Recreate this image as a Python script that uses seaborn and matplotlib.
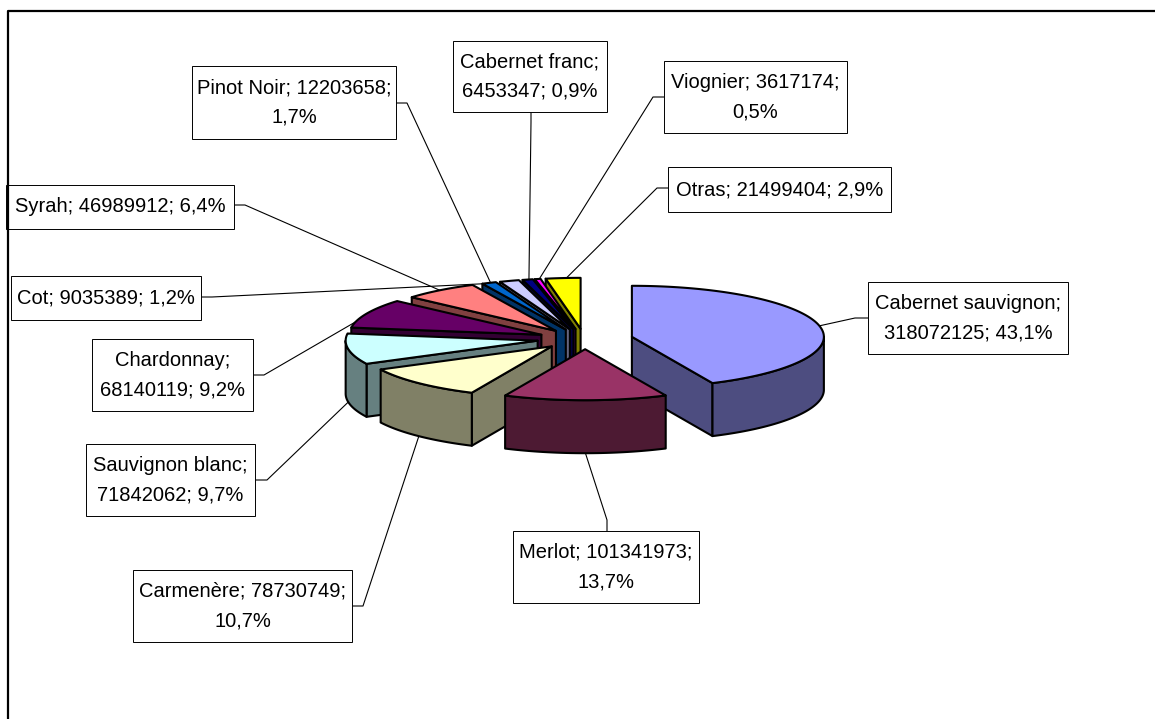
#!/usr/bin/env python3
'''exploded 3d style pie of wine varieties, drawn on a pixel sized axes'''

import numpy as np
import matplotlib
matplotlib.use('Agg')
import matplotlib.pyplot as plt
from matplotlib.patches import Polygon, Rectangle
import seaborn as sns

# data
varieties = ['Cabernet sauvignon', 'Merlot', 'Carmenère', 'Sauvignon blanc', 'Chardonnay',
             'Syrah', 'Cot', 'Pinot Noir', 'Cabernet franc', 'Viognier', 'Otras']
hectolitres = [318072125, 101341973, 78730749, 71842062, 68140119,
               46989912, 9035389, 12203658, 6453347, 3617174, 21499404]
shares = ['43,1%', '13,7%', '10,7%', '9,7%', '9,2%',
          '6,4%', '1,2%', '1,7%', '0,9%', '0,5%', '2,9%']
top_colors = ['#9999FF', '#993366', '#FFFFCC', '#CCFFFF', '#660066',
              '#FF8080', '#0066CC', '#CCCCFF', '#000080', '#FF00FF', '#FFFF00']

# label boxes: left, top, right, bottom in pixels, where the line breaks
boxes = [(868, 282, 1068, 354), (513, 531, 699, 603), (133, 570, 352, 642), (86, 444, 255, 516),
         (92, 339, 253, 411), (6, 185, 234, 229), (11, 276, 201, 320), (192, 66, 396, 139),
         (453, 41, 607, 112), (664, 61, 847, 133), (668, 167, 891, 212)]
breaks = [2, 1, 1, 2, 2, 0, 0, 1, 2, 1, 0]   # 0 one line, 1 before share, 2 before value
# leader lines: where they leave the box, the elbow, then a nudge of the rim end in degrees
leader_start = [(868, 318), (607, 531), (352, 606), (255, 480), (253, 375), (234, 205),
                (201, 297), (396, 103), (531, 112), (664, 97), (668, 188)]
leader_elbow = [(855, 318), (607, 520), (363, 606), (267, 480), (264, 375), (245, 205),
                (212, 297), (407, 103), (531, 122), (653, 97), (657, 188)]
leader_nudge = [0, 0, 0, 0, -10, 0, -2.5, -6, 0.4, 0.5, 1]

# pie geometry
cx, cy = 585, 339
rx, ry = 192, 51
depth = 53
explode_x, explode_y = 0.25, 0.2

sns.set_theme(style='white')
plt.rcParams['font.family'] = ['Liberation Sans', 'DejaVu Sans']

fig = plt.figure(figsize=(11.55, 7.19), dpi=100)
ax = fig.add_axes([0, 0, 1, 1])
ax.set_xlim(0, 1155)
ax.set_ylim(719, 0)
ax.axis('off')

# chart frame, runs off the right and bottom of the picture
ax.plot([8, 8, 1160], [725, 11, 11], color='black', lw=1.6, zorder=12)

palette = sns.color_palette(top_colors)
fractions = np.array(hectolitres) / np.sum(hectolitres)
edges = np.concatenate([[0], np.cumsum(fractions) * 360])


def rim(theta, x0, y0):
    t = np.radians(theta)
    return x0 + rx * np.sin(t), y0 - ry * np.cos(t)


order = np.argsort(-np.cos(np.radians((edges[:-1] + edges[1:]) / 2)))
for n, i in enumerate(order):
    t1, t2 = edges[i], edges[i + 1]
    mid = np.radians((t1 + t2) / 2)
    x0 = cx + explode_x * rx * np.sin(mid)
    y0 = cy - explode_y * ry * np.cos(mid)
    top = palette[i]
    side = tuple(c / 2 for c in top)
    z = 5 + n * 0.1
    style = dict(edgecolor='black', lw=1.5, joinstyle='round', zorder=z)

    # radial walls facing the viewer
    for theta, visible in ((t1, np.sin(np.radians(t1)) < -1e-6), (t2, np.sin(np.radians(t2)) > 1e-6)):
        if visible:
            x1, y1 = rim(theta, x0, y0)
            ax.add_patch(Polygon([(x0, y0), (x1, y1), (x1, y1 + depth), (x0, y0 + depth)],
                                 facecolor=side, **style))
    # outer wall, front half only
    a, b = max(t1, 90), min(t2, 270)
    if a < b:
        th = np.linspace(a, b, 60)
        xs, ys = rim(th, x0, y0)
        pts = np.r_[np.c_[xs, ys], np.c_[xs, ys + depth][::-1]]
        ax.add_patch(Polygon(pts, facecolor=side, **style))
    # top face
    th = np.linspace(t1, t2, max(int(t2 - t1), 2) + 1)
    xs, ys = rim(th, x0, y0)
    ax.add_patch(Polygon(np.r_[[(x0, y0)], np.c_[xs, ys]], facecolor=top, **style))

    # leader line goes under the wedges, ends on the rim
    xe, ye = rim(np.degrees(mid) + leader_nudge[i], x0, y0)
    if np.cos(mid) < 0:
        ye += depth
    sx, sy = leader_start[i]
    ex, ey = leader_elbow[i]
    ax.plot([sx, ex, xe], [sy, ey, ye], color='black', lw=0.8, zorder=2)

# label boxes
for i, name in enumerate(varieties):
    l, t, r, b = boxes[i]
    ax.add_patch(Rectangle((l, t), r - l, b - t, facecolor='white', edgecolor='black', lw=0.7, zorder=10))
    if breaks[i] == 0:
        txt = f'{name}; {hectolitres[i]}; {shares[i]}'
    elif breaks[i] == 1:
        txt = f'{name}; {hectolitres[i]};\n{shares[i]}'
    else:
        txt = f'{name};\n{hectolitres[i]}; {shares[i]}'
    ax.text((l + r) / 2, (t + b) / 2, txt, ha='center', va='center', fontsize=14.5,
            color='black', linespacing=1.7, zorder=11)

fig.savefig('out.png', dpi=100, facecolor='white')
